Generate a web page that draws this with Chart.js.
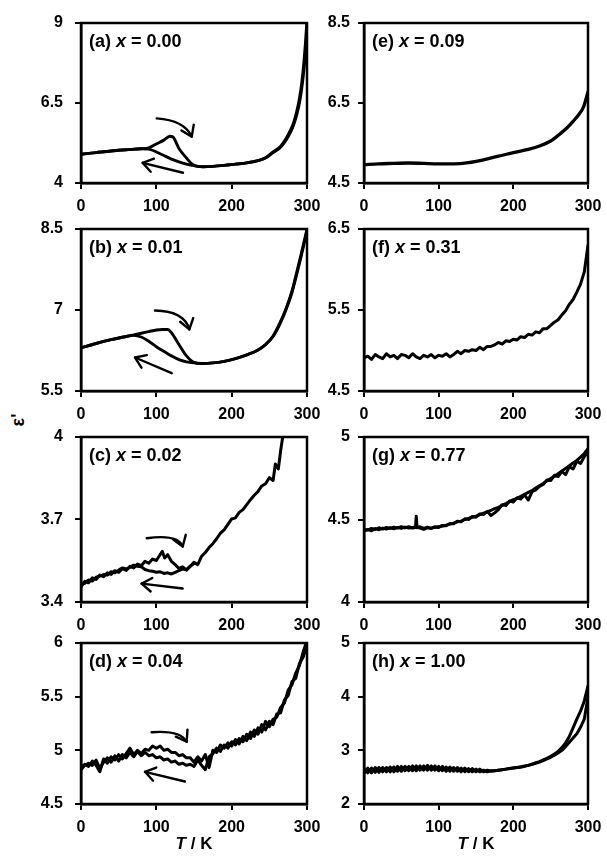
<!DOCTYPE html>
<html>
<head>
<meta charset="utf-8">
<script src="https://cdn.jsdelivr.net/npm/chart.js@4.4.0/dist/chart.umd.min.js"></script>
<style>
  html, body { margin: 0; padding: 0; background: #fff; overflow: hidden; }
  #page { position: relative; width: 607px; height: 860px; }
  #page canvas { position: absolute; }
  #ylab { position: absolute; left: 18px; top: 420px; transform: translate(-50%, -50%) rotate(-90deg);
          font: bold 18px "Liberation Sans", Arial, sans-serif; white-space: nowrap; }
</style>
</head>
<body>
<div id="page"><div id="ylab">ε'</div></div>
<script>
// temperature grid (K) shared by the noisy panels
const T5 = [0,5,10,15,20,25,30,35,40,45,50,55,60,65,70,75,80,85,90,95,100,105,110,115,120,125,130,135,140,145,150,
  155,160,165,170,175,180,185,190,195,200,205,210,215,220,225,230,235,240,245,250,255,260,265,270,275,280,285,290,295,300];

// (a) x = 0.00
const tA = [0,20,40,60,80,90,100,110,118,122,130,140,148,155,162,175,190,205,220,235,245,255,265,272,278,282,286,290,293,296,298,300];
const eA_heat = [4.90,4.95,5.00,5.04,5.07,5.10,5.22,5.34,5.46,5.44,5.08,4.78,4.58,4.52,4.51,4.52,4.55,4.59,4.63,4.70,4.79,4.97,5.15,5.38,5.65,5.87,6.20,6.65,7.12,7.80,8.40,9.10];
const eA_cool = [4.90,4.95,5.00,5.04,5.07,5.06,4.97,4.86,4.77,4.73,4.66,4.59,4.55,4.52,4.51,4.52,4.55,4.59,4.63,4.70,4.78,4.95,5.12,5.33,5.58,5.80,6.10,6.50,6.95,7.55,8.05,8.60];

// (b) x = 0.01
const tB = [0,20,40,60,70,80,90,100,108,115,120,130,140,150,160,175,190,205,220,235,245,255,264,272,280,286,292,296,300];
const eB_heat = [6.30,6.38,6.45,6.51,6.54,6.57,6.60,6.63,6.64,6.64,6.58,6.36,6.15,6.03,6.01,6.02,6.05,6.10,6.17,6.26,6.36,6.52,6.76,7.02,7.35,7.68,8.02,8.26,8.50];
const eB_cool = [6.30,6.38,6.45,6.51,6.53,6.50,6.42,6.32,6.25,6.19,6.15,6.08,6.04,6.02,6.01,6.02,6.05,6.10,6.17,6.26,6.36,6.51,6.74,7.00,7.32,7.64,7.98,8.22,8.47];

// (c) x = 0.02
const tC_heat = [0,5,10,15,20,25,30,35,40,45,50,55,60,65,70,75,80,85,90,95,100,105,108,111,115,120,125,130,135,140,145,150,
  155,160,165,170,175,180,185,190,195,200,205,210,215,220,225,230,235,240,245,250,255,258,262,265,268,272];
const eC_heat = [3.455,3.475,3.470,3.488,3.482,3.498,3.492,3.506,3.500,3.514,3.508,3.521,3.515,3.530,3.524,3.538,3.532,3.548,3.541,3.556,
  3.551,3.572,3.584,3.560,3.572,3.548,3.536,3.522,3.528,3.516,3.530,3.544,3.536,3.566,3.580,3.598,3.612,3.630,3.650,3.662,
  3.682,3.702,3.706,3.726,3.736,3.754,3.772,3.788,3.802,3.822,3.830,3.852,3.842,3.902,3.884,3.950,4.005,4.080];
const tC_cool = [0,5,10,15,20,25,30,35,40,45,50,55,60,65,70,75,80,85,90,95,100,105,110,115,120,125,130,135,140,145,150];
const eC_cool = [3.462,3.468,3.480,3.476,3.490,3.494,3.500,3.498,3.510,3.506,3.516,3.524,3.520,3.526,3.534,3.530,3.528,3.518,3.514,3.512,
  3.508,3.510,3.504,3.506,3.502,3.508,3.514,3.520,3.518,3.530,3.540];

// (d) x = 0.04
const eD_heat = [4.84,4.87,4.85,4.90,4.86,4.80,4.92,4.88,4.94,4.91,4.96,4.92,4.97,5.02,4.96,5.00,4.97,5.01,5.00,5.04,5.02,5.04,5.00,5.01,4.98,
  4.98,4.95,4.96,4.93,4.93,4.89,4.94,4.90,4.96,4.84,5.00,4.98,5.05,5.02,5.07,5.04,5.10,5.06,5.13,5.09,5.17,5.13,5.21,5.17,5.27,
  5.22,5.29,5.31,5.40,5.44,5.56,5.61,5.72,5.79,5.92,6.02];
const eD_cool = [4.82,4.86,4.88,4.86,4.91,4.83,4.89,4.93,4.89,4.95,4.90,4.96,4.93,4.98,4.94,4.99,4.95,4.98,4.95,4.96,4.93,4.94,4.91,4.92,4.89,
  4.90,4.87,4.88,4.86,4.87,4.85,4.91,4.86,4.82,4.94,4.97,5.02,4.99,5.05,5.02,5.08,5.05,5.11,5.08,5.15,5.11,5.19,5.15,5.24,5.19,
  5.27,5.24,5.34,5.35,5.47,5.51,5.64,5.67,5.81,5.87,5.98];

// (e) x = 0.09
const tE = [0,20,40,60,80,100,120,140,160,180,200,220,236,250,262,272,280,288,294,300];
const eE = [4.96,4.98,4.99,5.00,4.99,4.98,4.98,5.01,5.08,5.17,5.26,5.34,5.43,5.55,5.72,5.88,6.04,6.22,6.40,6.78];

// (f) x = 0.31
const eF = [4.91,4.93,4.89,4.95,4.92,4.90,4.96,4.92,4.94,4.90,4.95,4.94,4.91,4.96,4.92,4.90,4.94,4.92,4.95,4.91,4.94,4.93,4.96,4.92,4.95,
  4.99,4.96,5.00,4.99,5.01,5.00,5.04,5.01,5.05,5.05,5.07,5.10,5.08,5.12,5.11,5.14,5.13,5.17,5.16,5.20,5.19,5.23,5.22,5.27,5.27,
  5.31,5.35,5.38,5.44,5.49,5.57,5.63,5.72,5.82,5.97,6.30];

// (g) x = 0.77
const tG = [0,5,10,15,20,25,30,35,40,45,50,55,60,65,69,70,71,75,80,85,90,95,100,105,110,115,120,125,130,135,140,145,150,
  155,160,165,170,175,180,185,190,195,200,205,210,215,220,225,230,235,240,245,250,255,260,265,270,275,280,285,290,295,300];
const eG_heat = [4.430,4.440,4.432,4.445,4.438,4.448,4.442,4.450,4.444,4.452,4.446,4.454,4.448,4.452,4.455,4.520,4.455,4.448,4.440,4.450,
  4.446,4.452,4.456,4.460,4.466,4.472,4.478,4.486,4.490,4.500,4.506,4.514,4.520,4.530,4.538,4.546,4.556,4.566,4.574,4.586,
  4.596,4.608,4.620,4.628,4.640,4.652,4.664,4.676,4.690,4.704,4.718,4.734,4.748,4.762,4.778,4.794,4.810,4.826,4.842,4.858,
  4.878,4.900,4.930];
const eG_cool = [4.440,4.436,4.446,4.440,4.450,4.442,4.452,4.446,4.454,4.448,4.456,4.450,4.456,4.448,4.452,4.452,4.450,4.456,4.446,4.454,
  4.448,4.456,4.452,4.464,4.462,4.476,4.474,4.490,4.486,4.504,4.500,4.518,4.514,4.534,4.530,4.550,4.524,4.540,4.560,4.590,
  4.584,4.612,4.606,4.632,4.624,4.650,4.618,4.668,4.680,4.700,4.712,4.740,4.736,4.768,4.760,4.790,4.772,4.820,4.806,4.852,
  4.840,4.880,4.910];

// (h) x = 1.00
const eH_heat = [2.57,2.67,2.58,2.68,2.59,2.68,2.60,2.69,2.60,2.70,2.61,2.70,2.62,2.71,2.62,2.71,2.63,2.72,2.63,2.71,2.62,2.70,2.61,2.69,2.61,
  2.68,2.60,2.67,2.60,2.66,2.60,2.65,2.60,2.63,2.61,2.62,2.63,2.64,2.65,2.66,2.67,2.68,2.69,2.71,2.72,2.74,2.77,2.79,2.82,2.85,
  2.89,2.93,2.98,3.05,3.14,3.26,3.42,3.58,3.73,3.92,4.20];
const eH_cool = [2.66,2.58,2.67,2.59,2.68,2.60,2.68,2.60,2.69,2.61,2.70,2.62,2.70,2.62,2.71,2.63,2.71,2.63,2.71,2.63,2.70,2.62,2.69,2.61,2.68,
  2.61,2.67,2.60,2.66,2.60,2.65,2.60,2.63,2.60,2.62,2.62,2.63,2.64,2.65,2.66,2.67,2.68,2.69,2.70,2.72,2.74,2.76,2.78,2.81,2.84,
  2.87,2.91,2.95,3.00,3.07,3.15,3.23,3.31,3.43,3.58,4.00];

const xTicks = [0, 100, 200, 300];

const FONT = '"Liberation Sans", Arial, sans-serif';
const AXIS_W = 70, PAD_TOP = 12, PAD_RIGHT = 18;
const colLeft = [81, 364], colWidth = [226, 224], colTickPad = [12, 8];
const rowTop = [23, 229, 437, 643], rowHeight = [160, 162, 165, 161];

const panels = [
  { tag: 'a', x: '0.00', col: 0, row: 0, min: 4, max: 9, step: 2.5, smooth: true,
    series: [[tA, eA_heat], [tA, eA_cool]],
    curved: [100.5, 6.02, 137, 5.96, 147, 5.45], straight: [135.4, 4.32, 81.9, 4.63] },
  { tag: 'b', x: '0.01', col: 0, row: 1, min: 5.5, max: 8.5, step: 1.5, smooth: true,
    series: [[tB, eB_heat], [tB, eB_cool]],
    curved: [98.2, 6.99, 137, 6.98, 143.8, 6.64], straight: [120.4, 5.83, 71.7, 6.12] },
  { tag: 'c', x: '0.02', col: 0, row: 2, min: 3.4, max: 4, step: 0.3,
    series: [[tC_heat, eC_heat], [tC_cool, eC_cool]],
    curved: [87.2, 3.632, 129, 3.648, 135, 3.602], straight: [135, 3.449, 80.5, 3.467] },
  { tag: 'd', x: '0.04', col: 0, row: 3, min: 4.5, max: 6, step: 0.5, bottom: true,
    series: [[T5, eD_heat], [T5, eD_cool]],
    curved: [93.8, 5.168, 131, 5.19, 140.3, 5.08], straight: [137.9, 4.71, 85, 4.80] },
  { tag: 'e', x: '0.09', col: 1, row: 0, min: 4.5, max: 8.5, step: 2, smooth: true, width: 3.3,
    series: [[tE, eE]] },
  { tag: 'f', x: '0.31', col: 1, row: 1, min: 4.5, max: 6.5, step: 1,
    series: [[T5, eF]] },
  { tag: 'g', x: '0.77', col: 1, row: 2, min: 4, max: 5, step: 0.5,
    series: [[tG, eG_heat], [tG, eG_cool]] },
  { tag: 'h', x: '1.00', col: 1, row: 3, min: 2, max: 5, step: 1, bottom: true,
    series: [[T5, eH_heat], [T5, eH_cool]] }
];

function pts(t, e) { return t.map((v, i) => ({ x: v, y: e[i] })); }

function drawParts(ctx, parts, x, y, size, center) {
  let total = 0;
  parts.forEach(p => { ctx.font = p[0] + ' ' + size + 'px ' + FONT; total += ctx.measureText(p[1]).width; });
  let cx = center ? x - total / 2 : x;
  parts.forEach(p => {
    ctx.font = p[0] + ' ' + size + 'px ' + FONT;
    ctx.fillText(p[1], cx, y);
    cx += ctx.measureText(p[1]).width;
  });
}

function arrowHead(ctx, x, y, ang) {
  const L = 12, s = 0.6;
  ctx.beginPath();
  ctx.moveTo(x - L * Math.cos(ang - s), y - L * Math.sin(ang - s));
  ctx.lineTo(x, y);
  ctx.lineTo(x - L * Math.cos(ang + s), y - L * Math.sin(ang + s));
  ctx.stroke();
}

function panelPlugin(p) {
  return {
    id: 'panel_' + p.tag,
    afterDatasetsDraw(chart) {
      const ctx = chart.ctx, a = chart.chartArea;
      const xs = chart.scales.x, ys = chart.scales.y;
      ctx.save();
      ctx.strokeStyle = '#000';
      ctx.fillStyle = '#000';
      ctx.lineWidth = 2.5;
      ctx.strokeRect(a.left, a.top, a.right - a.left, a.bottom - a.top);

      ctx.lineWidth = 2.4;
      ctx.lineCap = 'round';
      ctx.lineJoin = 'round';
      if (p.curved) {
        const c = p.curved;
        const x0 = xs.getPixelForValue(c[0]), y0 = ys.getPixelForValue(c[1]);
        const xc = xs.getPixelForValue(c[2]), yc = ys.getPixelForValue(c[3]);
        const x1 = xs.getPixelForValue(c[4]), y1 = ys.getPixelForValue(c[5]);
        ctx.beginPath();
        ctx.moveTo(x0, y0);
        ctx.quadraticCurveTo(xc, yc, x1, y1);
        ctx.stroke();
        arrowHead(ctx, x1, y1, Math.atan2(y1 - yc, x1 - xc));
      }
      if (p.straight) {
        const s = p.straight;
        const xt = xs.getPixelForValue(s[0]), yt = ys.getPixelForValue(s[1]);
        const xh = xs.getPixelForValue(s[2]), yh = ys.getPixelForValue(s[3]);
        ctx.beginPath();
        ctx.moveTo(xt, yt);
        ctx.lineTo(xh, yh);
        ctx.stroke();
        arrowHead(ctx, xh, yh, Math.atan2(yh - yt, xh - xt));
      }

      ctx.textBaseline = 'middle';
      ctx.textAlign = 'left';
      drawParts(ctx, [['bold', '(' + p.tag + ') '], ['italic bold', 'x'], ['bold', ' = ' + p.x]], a.left + 8, a.top + 19.5, 18, false);
      if (p.bottom) {
        drawParts(ctx, [['italic bold', 'T'], ['bold', ' / K']], (a.left + a.right) / 2, a.bottom + 40, 17, true);
      }
      ctx.restore();
    }
  };
}

const tickFont = { family: FONT, size: 16, weight: 'bold' };
const fmt = v => String(+Number(v).toFixed(2));

// keep the plot box exactly where the layout says: no extra room for edge labels
function noEdgePad(s) { s.paddingTop = 0; s.paddingBottom = 0; s.paddingLeft = 0; s.paddingRight = 0; }

function makePanel(p) {
  const page = document.getElementById('page');
  const cv = document.createElement('canvas');
  const w = colWidth[p.col], h = rowHeight[p.row];
  const xh = p.bottom ? 56 : 32;
  const W = AXIS_W + w + PAD_RIGHT, H = PAD_TOP + h + xh;
  cv.width = W; cv.height = H;
  cv.style.width = W + 'px'; cv.style.height = H + 'px';
  cv.style.left = (colLeft[p.col] - AXIS_W) + 'px';
  cv.style.top = (rowTop[p.row] - PAD_TOP) + 'px';
  page.appendChild(cv);

  new Chart(cv, {
    type: 'line',
    data: {
      datasets: p.series.map(s => ({
        data: pts(s[0], s[1]),
        borderColor: '#000',
        borderWidth: p.width || (p.smooth ? 2.9 : 3),
        pointRadius: 0,
        fill: false,
        tension: p.smooth ? 0.4 : 0,
        cubicInterpolationMode: p.smooth ? 'monotone' : 'default',
        borderJoinStyle: 'round',
        borderCapStyle: 'round'
      }))
    },
    options: {
      responsive: false,
      animation: false,
      layout: { padding: { top: PAD_TOP, right: PAD_RIGHT, left: 0, bottom: 0 }, autoPadding: false },
      plugins: { legend: { display: false }, tooltip: { enabled: false } },
      scales: {
        x: {
          type: 'linear', min: xTicks[0], max: xTicks[xTicks.length - 1],
          afterFit: s => { s.height = xh; noEdgePad(s); },
          afterBuildTicks: s => { s.ticks = xTicks.map(v => ({ value: v })); },
          ticks: { color: '#000', font: tickFont, padding: 8, maxRotation: 0, callback: fmt },
          grid: { drawOnChartArea: false, drawTicks: true, tickLength: 6, color: '#000', lineWidth: 2 },
          border: { display: true, color: '#000', width: 2.5 }
        },
        y: {
          type: 'linear', min: p.min, max: p.max,
          afterFit: s => { s.width = AXIS_W; noEdgePad(s); },
          ticks: { stepSize: p.step, color: '#000', font: tickFont, padding: colTickPad[p.col], callback: fmt },
          grid: { drawOnChartArea: false, drawTicks: true, tickLength: 6, color: '#000', lineWidth: 2 },
          border: { display: true, color: '#000', width: 2.5 }
        }
      }
    },
    plugins: [panelPlugin(p)]
  });
}

panels.forEach(makePanel);
</script>
</body>
</html>
